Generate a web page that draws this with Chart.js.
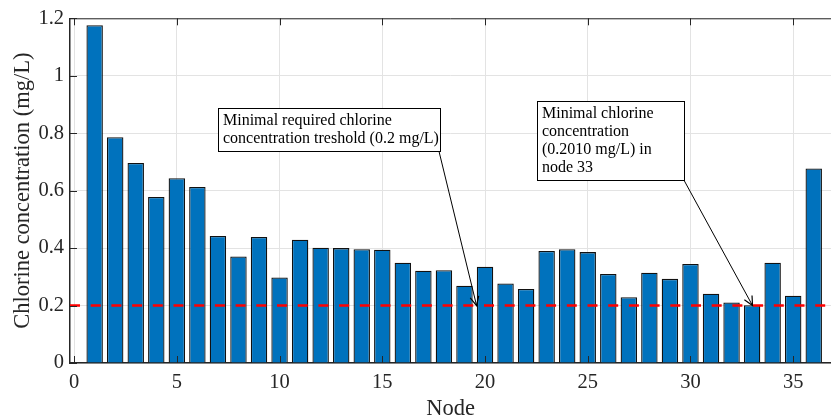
<!DOCTYPE html>
<html>
<head>
<meta charset="utf-8">
<script src="https://cdn.jsdelivr.net/npm/chart.js@4.4.1/dist/chart.umd.min.js"></script>
<style>
  html, body { margin: 0; padding: 0; background: #fff; }
  #wrap { width: 831px; height: 419px; }
</style>
</head>
<body>
<div id="wrap"><canvas id="chart" width="831" height="419"></canvas></div>
<script>
// Datos
const nodos = [1, 2, 3, 4, 5, 6, 7, 8, 9, 10, 11, 12, 13, 14, 15, 16, 17, 18,
               19, 20, 21, 22, 23, 24, 25, 26, 27, 28, 29, 30, 31, 32, 33, 34, 35, 36];
const cloro = [1.176, 0.786, 0.696, 0.578, 0.643, 0.613, 0.442, 0.371, 0.439, 0.298,
               0.429, 0.401, 0.400, 0.396, 0.394, 0.349, 0.321, 0.323, 0.269, 0.335,
               0.277, 0.258, 0.390, 0.396, 0.386, 0.310, 0.229, 0.314, 0.293, 0.345,
               0.241, 0.211, 0.201, 0.349, 0.234, 0.677];
const umbral = 0.2;
const xTicks = [0, 5, 10, 15, 20, 25, 30, 35];
const yTicks = [0, 0.2, 0.4, 0.6, 0.8, 1, 1.2];
const xRango = [-0.2, 36.84];

const notas = [
    { lineas: ['Minimal required chlorine', 'concentration treshold (0.2 mg/L)'],
      caja: [6.99, 0.887, 17.80, 0.7365], desde: [17.76, 0.737], hasta: [19.59, 0.2] },
    { lineas: ['Minimal chlorine', 'concentration', '(0.2010 mg/L) in', 'node 33'],
      caja: [22.54, 0.9125, 29.68, 0.637], desde: [29.68, 0.637], hasta: [33.02, 0.2] }
];

const FUENTE = '"Liberation Serif", "Times New Roman", serif';
const GRIS = '#262626';

// Marco superior y marcas hacia adentro (estilo MATLAB)
const marcoPlugin = {
    id: 'marco',
    afterDatasetsDraw(chart) {
        const { ctx, chartArea: a, scales } = chart;
        ctx.save();
        ctx.strokeStyle = GRIS;
        ctx.lineWidth = 1;
        ctx.beginPath();
        ctx.moveTo(a.left, a.top + 0.5);
        ctx.lineTo(a.right, a.top + 0.5);
        xTicks.forEach(v => {
            const px = Math.round(scales.x.getPixelForValue(v)) + 0.5;
            ctx.moveTo(px, a.bottom); ctx.lineTo(px, a.bottom - 7);
            ctx.moveTo(px, a.top); ctx.lineTo(px, a.top + 7);
        });
        yTicks.forEach(v => {
            const py = Math.round(scales.y.getPixelForValue(v)) + 0.5;
            ctx.moveTo(a.left, py); ctx.lineTo(a.left + 7, py);
        });
        ctx.stroke();
        ctx.restore();
    }
};

// Cuadros de texto con flecha
const notasPlugin = {
    id: 'notas',
    afterDraw(chart) {
        const { ctx, scales } = chart;
        const X = v => scales.x.getPixelForValue(v);
        const Y = v => scales.y.getPixelForValue(v);
        ctx.save();
        notas.forEach(n => {
            const x0 = Math.round(X(n.caja[0])) + 0.5, y0 = Math.round(Y(n.caja[1])) + 0.5;
            const x1 = Math.round(X(n.caja[2])) + 0.5, y1 = Math.round(Y(n.caja[3])) + 0.5;
            ctx.fillStyle = '#fff';
            ctx.fillRect(x0, y0, x1 - x0, y1 - y0);
            ctx.strokeStyle = '#000';
            ctx.lineWidth = 1;
            ctx.strokeRect(x0, y0, x1 - x0, y1 - y0);
            ctx.fillStyle = '#000';
            ctx.font = '16px ' + FUENTE;
            ctx.textBaseline = 'middle';
            ctx.textAlign = 'left';
            n.lineas.forEach((t, i) => ctx.fillText(t, x0 + 4.5, y0 + 12.5 + i * 17.8));

            // flecha
            const ax = X(n.desde[0]), ay = Y(n.desde[1]);
            const bx = X(n.hasta[0]), by = Y(n.hasta[1]);
            ctx.beginPath();
            ctx.moveTo(ax, ay);
            ctx.lineTo(bx, by);
            ctx.stroke();
            const ang = Math.atan2(by - ay, bx - ax);
            const L = 10, w = 0.45;
            ctx.beginPath();
            ctx.moveTo(bx - L * Math.cos(ang - w), by - L * Math.sin(ang - w));
            ctx.lineTo(bx, by);
            ctx.lineTo(bx - L * Math.cos(ang + w), by - L * Math.sin(ang + w));
            ctx.lineWidth = 1.2;
            ctx.stroke();
        });
        ctx.restore();
    }
};

const ctx = document.getElementById('chart');
new Chart(ctx, {
    type: 'bar',
    data: {
        datasets: [{
            type: 'line',
            data: xRango.map(x => ({ x: x, y: umbral })),
            borderColor: '#ff0000',
            borderWidth: 2.6,
            borderDash: [10, 10.7],
            pointRadius: 0,
            order: 0
        }, {
            type: 'bar',
            data: nodos.map((n, i) => ({ x: n, y: cloro[i] })),
            backgroundColor: '#0072BD',
            borderColor: '#111',
            borderWidth: 1.3,
            barPercentage: 0.8,
            categoryPercentage: 1,
            order: 1
        }]
    },
    options: {
        responsive: false,
        animation: false,
        devicePixelRatio: 1,
        layout: { padding: { top: 17, right: 0, left: 0, bottom: 0 } },
        plugins: {
            legend: { display: false },
            tooltip: { enabled: false }
        },
        scales: {
            x: {
                type: 'linear',
                offset: false,
                min: xRango[0],
                max: xRango[1],
                afterBuildTicks: s => { s.ticks = xTicks.map(v => ({ value: v })); },
                afterFit: s => { s.height = 56; },
                grid: { color: '#e3e3e3', drawTicks: false, lineWidth: 1, offset: false },
                border: { color: GRIS, width: 1.5 },
                ticks: {
                    color: GRIS,
                    font: { family: FUENTE, size: 20.5 },
                    padding: 7,
                    maxRotation: 0,
                    autoSkip: false
                },
                title: {
                    display: true,
                    text: 'Node',
                    color: GRIS,
                    font: { family: FUENTE, size: 22.5 },
                    padding: { top: 6, bottom: -4 }
                }
            },
            y: {
                min: 0,
                max: 1.2,
                afterBuildTicks: s => { s.ticks = yTicks.map(v => ({ value: v })); },
                afterFit: s => { s.width = 70; },
                grid: { color: '#e3e3e3', drawTicks: false, lineWidth: 1 },
                border: { color: GRIS, width: 1.5 },
                ticks: {
                    color: GRIS,
                    font: { family: FUENTE, size: 20.5 },
                    padding: 6,
                    callback: v => String(Number(v.toFixed(1)))
                },
                title: {
                    display: true,
                    text: 'Chlorine concentration (mg/L)',
                    color: GRIS,
                    font: { family: FUENTE, size: 22.5 },
                    padding: { top: 10, bottom: 4 }
                }
            }
        }
    },
    plugins: [marcoPlugin, notasPlugin]
});
</script>
</body>
</html>
